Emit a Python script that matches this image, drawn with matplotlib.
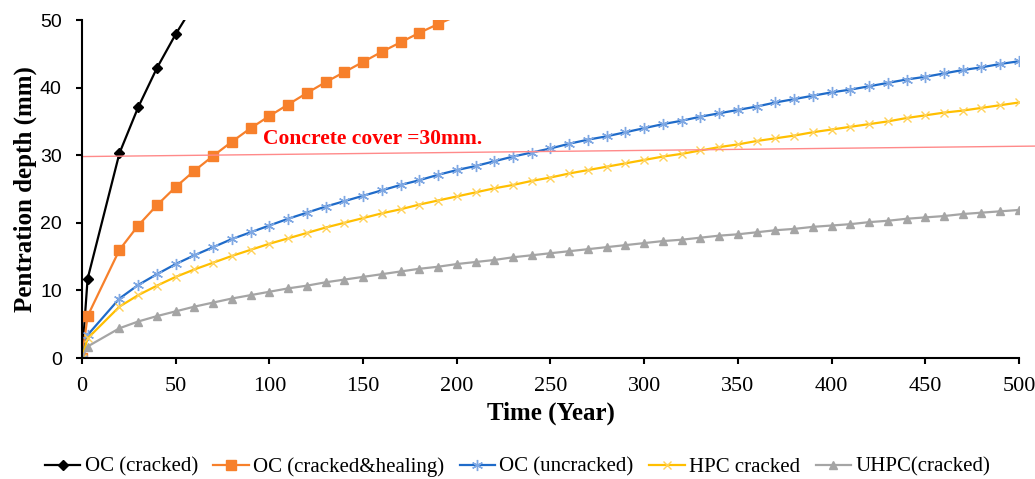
import matplotlib
matplotlib.use("Agg")
from matplotlib import pyplot as plt

# time points (years)
t_black = [0, 3, 20, 30, 40, 50, 60]
t_orange = [0, 3, 20, 30, 40, 50, 60, 70, 80, 90, 100, 110, 120, 130, 140,
            150, 160, 170, 180, 190, 200]
t_long = [0, 3] + list(range(20, 501, 10))

# penetration depth (mm)
oc_cracked = [0, 11.7, 30.3, 37.1, 42.9, 47.9, 52.4]
oc_healing = [0, 6.2, 16.0, 19.6, 22.6, 25.3, 27.7, 29.9, 32.0, 34.0, 35.8,
              37.5, 39.2, 40.8, 42.3, 43.8, 45.3, 46.7, 48.1, 49.4, 50.6]
oc_uncracked = [0, 3.4, 8.8, 10.8, 12.4, 13.9, 15.2, 16.4, 17.6, 18.6, 19.6,
                20.6, 21.5, 22.4, 23.2, 24.0, 24.8, 25.6, 26.3, 27.1, 27.8,
                28.4, 29.1, 29.8, 30.4, 31.0, 31.7, 32.3, 32.8, 33.4, 34.0,
                34.6, 35.1, 35.7, 36.2, 36.7, 37.2, 37.8, 38.3, 38.8, 39.3,
                39.7, 40.2, 40.7, 41.2, 41.6, 42.1, 42.6, 43.0, 43.5, 43.9]
hpc_cracked = [0, 2.9, 7.6, 9.3, 10.7, 12.0, 13.1, 14.1, 15.1, 16.0, 16.9,
               17.7, 18.5, 19.3, 20.0, 20.7, 21.4, 22.0, 22.7, 23.3, 23.9,
               24.5, 25.1, 25.6, 26.2, 26.7, 27.3, 27.8, 28.3, 28.8, 29.3,
               29.8, 30.2, 30.7, 31.2, 31.6, 32.1, 32.5, 32.9, 33.4, 33.8,
               34.2, 34.6, 35.0, 35.5, 35.9, 36.3, 36.6, 37.0, 37.4, 37.8]
uhpc_cracked = [0, 1.7, 4.4, 5.4, 6.2, 6.9, 7.6, 8.2, 8.8, 9.3, 9.8,
                10.3, 10.7, 11.2, 11.6, 12.0, 12.4, 12.8, 13.2, 13.5, 13.9,
                14.2, 14.5, 14.9, 15.2, 15.5, 15.8, 16.1, 16.4, 16.7, 17.0,
                17.3, 17.5, 17.8, 18.1, 18.3, 18.6, 18.9, 19.1, 19.4, 19.6,
                19.8, 20.1, 20.3, 20.6, 20.8, 21.0, 21.3, 21.5, 21.7, 21.9]

# concrete cover line (drawn slightly tilted in the original)
cover_x = [0, 509]
cover_y = [29.8, 31.35]

ymax = 50

fig = plt.figure(figsize=(10.35, 4.79), dpi=100)
ax = fig.add_axes([0.0792, 0.2526, 0.9053, 0.7056])


def inside(vals):
    # excel hides markers that fall outside the plot area
    return [i for i, v in enumerate(vals) if v <= ymax]


ax.plot(t_black, oc_cracked, color='black', lw=1.6, marker='D', ms=5,
        markevery=inside(oc_cracked), label='OC (cracked)')
ax.plot(t_orange, oc_healing, color='#F7802B', lw=1.6, marker='s', ms=7,
        markevery=inside(oc_healing), label='OC (cracked&healing)')
ax.plot(t_long, oc_uncracked, color='#1F6BC9', lw=1.6, marker=(6, 2, 0), ms=8,
        mec='#7FA8E3', mew=1.0, label='OC (uncracked)')
ax.plot(t_long, hpc_cracked, color='#FFBF00', lw=1.6, marker='x', ms=6,
        mec='#FFD25A', mew=1.0, label='HPC cracked')
ax.plot(t_long, uhpc_cracked, color='#A5A5A5', lw=1.6, marker='^', ms=6,
        label='UHPC(cracked)')

ax.plot(cover_x, cover_y, color='#FF8A8A', lw=1.0, clip_on=False)
ax.text(96.5, 31.7, 'Concrete cover =30mm.', color='red', fontsize=15.5,
        fontweight='bold', family='Liberation Serif')

ax.set_xlim(0, 500)
ax.set_ylim(0, ymax)
ax.set_xticks(range(0, 501, 50))
ax.set_yticks(range(0, 51, 10))
for s in ['top', 'right']:
    ax.spines[s].set_visible(False)
for s in ['left', 'bottom']:
    ax.spines[s].set_linewidth(1.5)
ax.tick_params(axis='both', direction='out', length=4.5, width=1.5)
ax.tick_params(axis='x', pad=9)
ax.tick_params(axis='y', pad=10)
for lab in ax.get_xticklabels():
    lab.set_family('Liberation Serif')
    lab.set_fontsize(16)
for lab in ax.get_yticklabels():
    lab.set_family('Liberation Sans')
    lab.set_fontsize(14)

ax.set_xlabel('Time (Year)', fontsize=18, fontweight='bold',
              family='Liberation Serif', labelpad=4)
ax.set_ylabel('Pentration depth (mm)', fontsize=18, fontweight='bold',
              family='Liberation Serif', labelpad=2)

fig.legend(loc='center', bbox_to_anchor=(0.5, 1 - 467 / 479), ncol=5,
           frameon=False, prop={'family': 'Liberation Serif', 'size': 15},
           handlelength=1.7, handletextpad=0.2, columnspacing=0.75)

fig.savefig('out.png', dpi=100)
